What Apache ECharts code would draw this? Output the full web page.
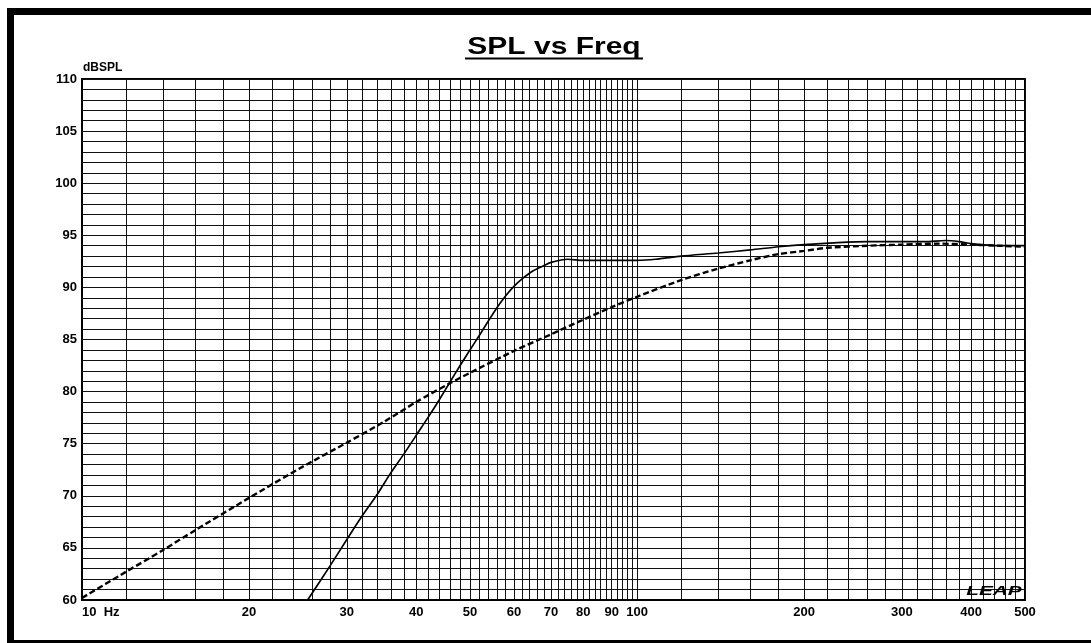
<!DOCTYPE html>
<html>
<head>
<meta charset="utf-8">
<script src="https://cdn.jsdelivr.net/npm/echarts@6/dist/echarts.min.js"></script>
<style>
html,body{margin:0;padding:0;background:#fff;}
#chart{width:1091px;height:643px;}
</style>
</head>
<body>
<div id="chart"></div>
<script>
// Frequency (Hz) and SPL (dB) for the solid curve
const solidFreq = [25.5, 28, 30, 32, 34, 36, 38, 40, 42, 44, 46, 48, 50, 52, 54, 56, 58, 60, 62, 65, 68, 70, 75, 80, 90, 100, 108, 120, 140, 160, 180, 200, 230, 260, 300, 330, 360, 380, 400, 450, 500];
const solidSpl  = [60.0, 63.3, 65.8, 68.1, 70.1, 72.2, 74.0, 75.8, 77.5, 79.2, 80.9, 82.5, 84.0, 85.4, 86.8, 88.1, 89.2, 90.1, 90.8, 91.6, 92.1, 92.4, 92.7, 92.6, 92.6, 92.6, 92.7, 93.0, 93.3, 93.6, 93.9, 94.1, 94.3, 94.4, 94.4, 94.4, 94.5, 94.4, 94.2, 94.0, 94.0];

// Frequency (Hz) and SPL (dB) for the dashed curve
const dashFreq = [10, 12, 14, 16, 20, 25, 30, 35, 40, 46, 50, 60, 70, 80, 90, 100, 120, 140, 160, 180, 200, 220, 260, 300, 350, 400, 450, 500];
const dashSpl  = [60.2, 62.7, 64.8, 66.7, 69.8, 72.8, 75.1, 77.1, 79.0, 80.8, 81.8, 83.9, 85.5, 86.9, 88.1, 89.1, 90.7, 91.8, 92.6, 93.2, 93.5, 93.8, 94.0, 94.1, 94.2, 94.1, 94.0, 93.9];

// Axis labels / grid positions
const xLabelValues = [10, 20, 30, 40, 50, 60, 70, 80, 90, 100, 200, 300, 400, 500];
const xGridValues = [];
for (let f = 10; f <= 100; f += 2) xGridValues.push(f);
for (let f = 120; f <= 500; f += 20) xGridValues.push(f);
const yLabelValues = [60, 65, 70, 75, 80, 85, 90, 95, 100, 105, 110];

const titleText = 'SPL vs Freq';
const yUnitText = 'dBSPL';

const chart = echarts.init(document.getElementById('chart'), null, {renderer: 'canvas'});
const FONT = 'Liberation Sans, Arial, sans-serif';

chart.setOption({
  animation: false,
  backgroundColor: '#fff',
  grid: {
    left: 82, right: 66, top: 79, bottom: 43,
    show: true, borderColor: '#000', borderWidth: 2, backgroundColor: 'transparent'
  },
  xAxis: {
    type: 'log', logBase: 10, min: 10, max: 500,
    axisLine: {show: true, onZero: false, lineStyle: {color: '#000', width: 2}},
    axisTick: {show: false, customValues: xGridValues},
    axisLabel: {
      customValues: xLabelValues,
      formatter: v => (v === 10 ? '10  Hz' : String(v)),
      color: '#000', fontWeight: 'bold', fontSize: 13, fontFamily: FONT,
      margin: 6, alignMinLabel: 'left'
    },
    splitLine: {show: true, lineStyle: {color: '#111', width: 1}},
    minorSplitLine: {show: false}
  },
  yAxis: {
    type: 'value', min: 60, max: 110, interval: 1,
    axisLine: {show: true, lineStyle: {color: '#000', width: 2}},
    axisTick: {show: false},
    axisLabel: {
      customValues: yLabelValues,
      formatter: v => String(v),
      color: '#000', fontWeight: 'bold', fontSize: 13, fontFamily: FONT, margin: 5
    },
    splitLine: {show: true, lineStyle: {color: '#111', width: 1}}
  },
  series: [
    {
      type: 'line', name: 'dashed',
      data: dashFreq.map((f, i) => [f, dashSpl[i]]),
      smooth: 0.25, showSymbol: false, symbol: 'none',
      lineStyle: {color: '#000', width: 2.4, type: [6, 3]},
      z: 5
    },
    {
      type: 'line', name: 'solid',
      data: solidFreq.map((f, i) => [f, solidSpl[i]]),
      smooth: 0.25, showSymbol: false, symbol: 'none',
      lineStyle: {color: '#000', width: 1.7},
      z: 6
    }
  ],
  graphic: [
    {type: 'rect', shape: {x: 7, y: 8, width: 1084, height: 7}, style: {fill: '#000'}, z: 100},
    {type: 'rect', shape: {x: 7, y: 8, width: 7, height: 635}, style: {fill: '#000'}, z: 100},
    {type: 'rect', shape: {x: 7, y: 640, width: 1084, height: 3}, style: {fill: '#000'}, z: 100},
    {
      type: 'text', x: 554, y: 47, scaleX: 1.25, scaleY: 1,
      style: {text: titleText, font: 'bold 24px ' + FONT, fill: '#000', align: 'center', verticalAlign: 'middle'},
      z: 100
    },
    {type: 'line', shape: {x1: 465, y1: 58.5, x2: 643, y2: 58.5}, style: {stroke: '#000', lineWidth: 2}, z: 100},
    {
      type: 'text', x: 83, y: 68,
      style: {text: yUnitText, font: 'bold 12px ' + FONT, fill: '#000', align: 'left', verticalAlign: 'middle'},
      z: 100
    },
    {
      type: 'text', x: 994, y: 591, scaleX: 1.6, scaleY: 1,
      style: {text: 'LEAP', font: 'bold italic 13px ' + FONT, fill: '#000', align: 'center', verticalAlign: 'middle'},
      z: 100
    }
  ]
});
</script>
</body>
</html>
